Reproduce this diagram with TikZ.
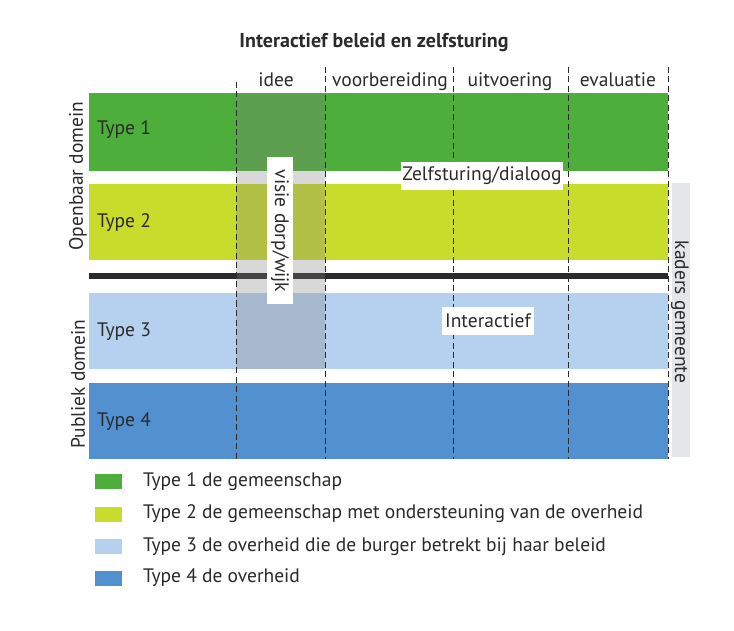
\documentclass[tikz,border=0pt]{standalone}
\usepackage{fontspec}
\setmainfont{PT Sans}
\definecolor{typeone}{HTML}{4DAE3B}
\definecolor{typetwo}{HTML}{C8DC2C}
\definecolor{typethree}{HTML}{B6D1F0}
\definecolor{typefour}{HTML}{5290D0}
\definecolor{kader}{HTML}{E4E6EA}
\definecolor{ink}{HTML}{2B2B2B}
\tikzset{
	lbl/.style={font=\fontsize{19.5}{22}\selectfont, text=ink, inner sep=0pt},
	phase/.style={ink, line width=0.9pt, dash pattern=on 6pt off 3.5pt},
	tag/.style={lbl, fill=white, inner sep=0pt, minimum height=28pt},
}

\begin{document}
\begin{tikzpicture}[x=1pt, y=-1pt]
			%%%%% START %%%%%
			\useasboundingbox[fill=white] (0,0) rectangle (734,631);
			\node[lbl, font=\fontsize{20}{22}\selectfont\bfseries] (title) at (374,43) {Interactief beleid en zelfsturing};
			
			\fill[typeone] (89,93) rectangle (668,171);
			\fill[typetwo] (89,184) rectangle (668,260);
			\fill[ink] (89,273) rectangle (668,279);
			\fill[typethree] (89,293) rectangle (668,369);
			\fill[typefour] (89,383) rectangle (668,459);
			\fill[kader] (672,183) rectangle (690,457);
			
			\fill[gray, opacity=0.3] (236,93) rectangle (325,369);
			
			\draw[phase] (236,82) -- (236,459);
			\draw[phase] (325,67) -- (325,459);
			\draw[phase] (453,67) -- (453,459);
			\draw[phase] (568,67) -- (568,459);
			\draw[phase] (668,67) -- (668,459);
			
			\node[lbl, anchor=base] (idee) at (276,87) {idee};
			\node[lbl, anchor=base] (voorbereiding) at (390,87) {voorbereiding};
			\node[lbl, anchor=base] (uitvoering) at (510,87) {uitvoering};
			\node[lbl, anchor=base] (evaluatie) at (618,87) {evaluatie};
			
			\node[lbl, anchor=west] (type1) at (97,130) {Type 1};
			\node[lbl, anchor=west] (type2) at (97,223) {Type 2};
			\node[lbl, anchor=west] (type3) at (97,332) {Type 3};
			\node[lbl, anchor=west] (type4) at (97,422) {Type 4};
			
			\node[lbl, rotate=90] (openbaar) at (78,176) {Openbaar domein};
			\node[lbl, rotate=90] (publiek) at (78,384) {Publiek domein};
			\node[lbl, rotate=-90] (kaders) at (680,312) {kaders gemeente};
			
			\node[tag, rotate=-90, minimum width=147pt, minimum height=26pt] (visie) at (280,231) {visie dorp/wijk};
			\node[tag, minimum width=162pt] (zelfsturing) at (482,176) {Zelfsturing/dialoog};
			\node[tag, minimum width=92pt] (interactief) at (488,321) {Interactief};
			
			\fill[typeone] (95,474) rectangle (122,489);
			\node[lbl, anchor=west] (leg1) at (143,482) {Type 1 de gemeenschap};
			\fill[typetwo] (95,507) rectangle (122,522);
			\node[lbl, anchor=west] (leg2) at (143,514) {Type 2 de gemeenschap met ondersteuning van de overheid};
			\fill[typethree] (95,539) rectangle (122,554);
			\node[lbl, anchor=west] (leg3) at (143,547) {Type 3 de overheid die de burger betrekt bij haar beleid};
			\fill[typefour] (95,571) rectangle (122,586);
			\node[lbl, anchor=west] (leg4) at (143,578) {Type 4 de overheid};
			%%%%% END %%%%%
\end{tikzpicture}
\end{document}
